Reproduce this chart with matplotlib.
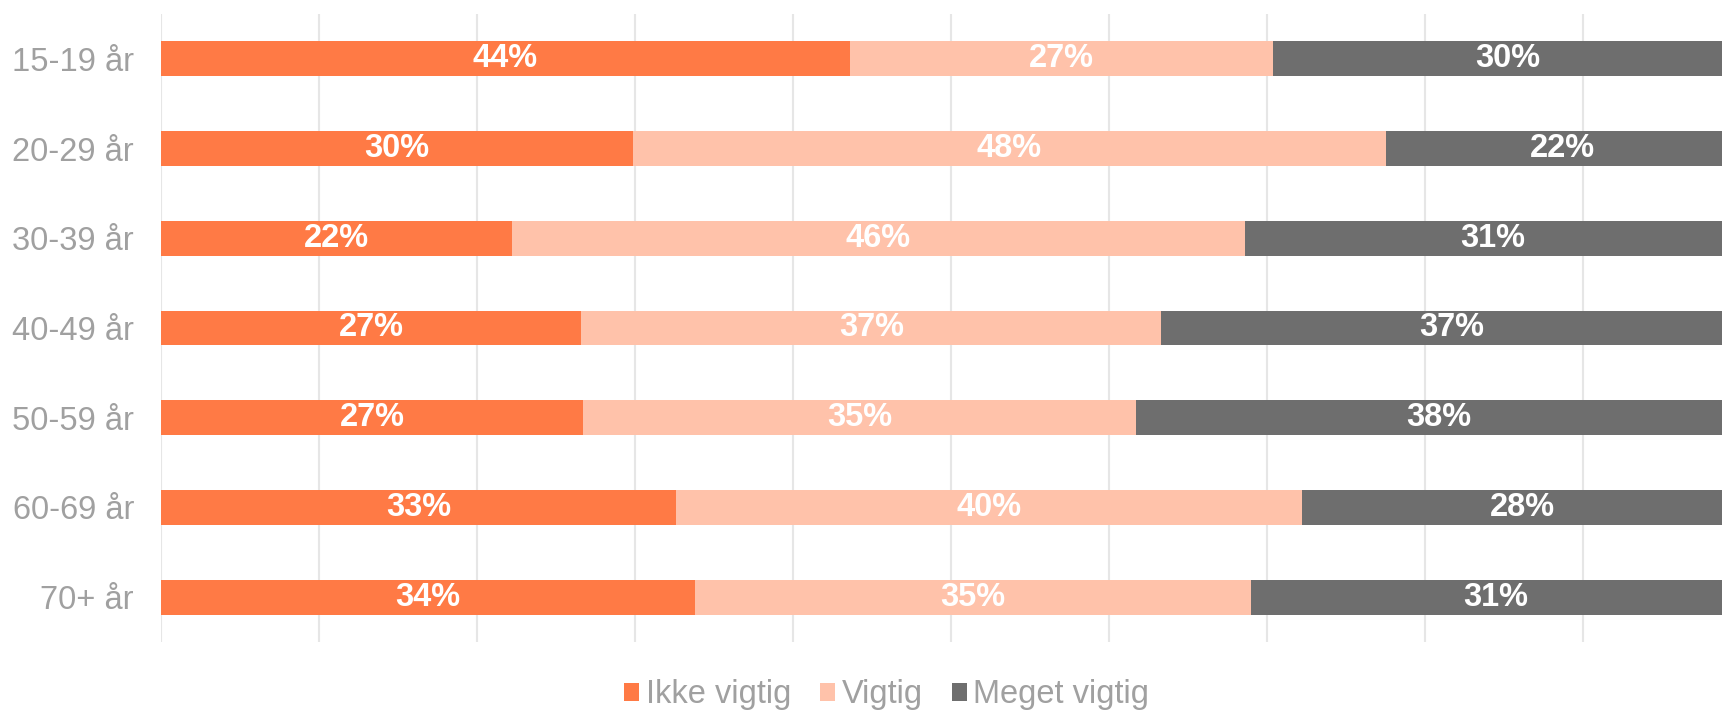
import matplotlib.pyplot as plt
import numpy as np

plt.rcParams['font.family'] = ['Liberation Sans', 'DejaVu Sans']

# Age groups, top to bottom
groups = ['15-19 år', '20-29 år', '30-39 år', '40-49 år', '50-59 år', '60-69 år', '70+ år']
series = ['Ikke vigtig', 'Vigtig', 'Meget vigtig']

# Shares in percent
ikke_vigtig = [43.6, 29.9, 22.2, 26.6, 26.7, 32.6, 33.8]
vigtig = [26.8, 47.6, 46.4, 36.7, 35.0, 39.6, 35.2]
meget_vigtig = [29.7, 22.4, 31.4, 36.8, 38.3, 27.9, 31.0]

colors = ['#FF7A45', '#FFC2AA', '#6E6E6E']
grey_txt = '#A0A0A0'
fs = 23.5

fig = plt.figure(figsize=(17.22, 7.12), dpi=100)
ax = fig.add_axes([161 / 1722, 1 - 642 / 712, 1580 / 1722, 628 / 712])

y = np.arange(len(groups))
left = np.zeros(len(groups))
for vals, col, name in zip([ikke_vigtig, vigtig, meget_vigtig], colors, series):
    vals = np.asarray(vals)
    ax.barh(y, vals, left=left, height=0.39, color=col, label=name, zorder=2)
    for yi, l, v in zip(y, left, vals):
        ax.text(l + v / 2, yi, f'{v:.0f}%', ha='center', va='center',
                color='white', fontsize=fs, fontweight='bold', zorder=3)
    left = left + vals

ax.set_xlim(0, 100)
ax.set_ylim(len(groups) - 0.5, -0.5)
ax.set_xticks(np.arange(0, 101, 10))
ax.set_xticklabels([])
ax.tick_params(axis='x', length=0)
ax.grid(axis='x', color='#E6E6E6', linewidth=1.5, zorder=0)
ax.set_yticks(y)
ax.set_yticklabels(groups, fontsize=fs, color=grey_txt)
ax.tick_params(axis='y', length=0, pad=19.5)
for s in ax.spines.values():
    s.set_visible(False)

fig.legend(loc='center', bbox_to_anchor=(0.515, 1 - 695 / 712), ncol=3, frameon=False,
           fontsize=fs, labelcolor=grey_txt, handlelength=0.45, handleheight=0.45,
           handletextpad=0.2, columnspacing=0.9, borderaxespad=0)

fig.savefig('out.png', dpi=100)
